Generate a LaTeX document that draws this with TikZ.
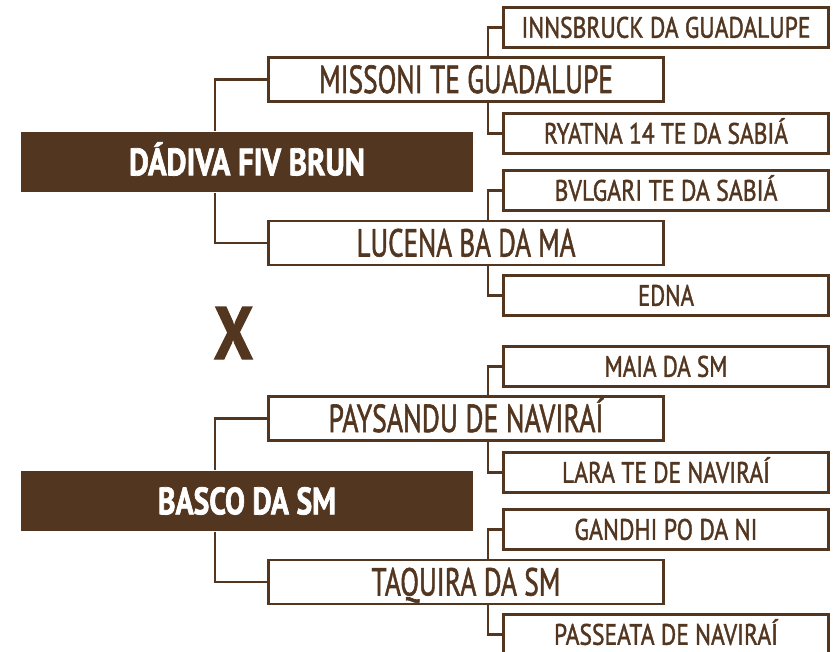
\documentclass[tikz,border=0pt]{standalone}
\usepackage{fontspec}
\usepackage{graphicx}
\setmainfont{PT Sans}
\newfontfamily\medfont{PT Sans}[FakeBold=1.6]
\newfontfamily\heavyfont{PT Sans Bold}[FakeBold=2]
\definecolor{brn}{HTML}{533620}
\newcommand\lbl[3]{\resizebox{#1pt}{\height}{\fontsize{#2}{#2}\selectfont #3}}
\begin{document}
\begin{tikzpicture}[x=1pt,y=-1pt,
  line width=2.2pt,
  conn/.style={draw=brn,line width=2.2pt},
  mainbox/.style={draw=brn,fill=white,line width=2.2pt,minimum width=395pt,minimum height=44pt,inner sep=0pt,text=brn,text height=27pt,text depth=0pt,font=\medfont},
  subbox/.style={draw=brn,fill=white,line width=2.2pt,minimum width=325pt,minimum height=40pt,inner sep=0pt,text=brn,text height=20.5pt,text depth=0pt,font=\medfont},
  rootbox/.style={fill=brn,minimum width=452pt,minimum height=60pt,inner sep=0pt,text=white,text height=26.5pt,text depth=0pt,font=\heavyfont},
  ]
\useasboundingbox (0,0) rectangle (840,652);
\clip (0,0) rectangle (840,652);
\coordinate (c1) at (215,0);
\coordinate (c2) at (488,0);
% top group
\node[rootbox] (r1) at (247,162) {\lbl{236}{38}{DÁDIVA FIV BRUN}};
\node[mainbox] (m1) at (466,79.5) {\lbl{294}{39}{MISSONI TE GUADALUPE}};
\node[mainbox] (m2) at (466,243) {\lbl{219}{39}{LUCENA BA DA MA}};
\node[subbox] (s1) at (666,27.5) {\lbl{289}{29.5}{INNSBRUCK DA GUADALUPE}};
\node[subbox] (s2) at (666,133.5) {\lbl{244}{29.5}{RYATNA 14 TE DA SABIÁ}};
\node[subbox] (s3) at (666,190.5) {\lbl{223}{29.5}{BVLGARI TE DA SABIÁ}};
\node[subbox] (s4) at (666,295.5) {\lbl{56}{29.5}{EDNA}};
% X
\node[text=brn,inner sep=0pt,text height=52pt,text depth=0pt,font=\heavyfont] (x) at (233.5,333) {\lbl{39}{74}{X}};
% bottom group
\node[rootbox] (r2) at (247,501) {\lbl{178}{38}{BASCO DA SM}};
\node[mainbox] (m3) at (466,418.5) {\lbl{275}{39}{PAYSANDU DE NAVIRAÍ}};
\node[mainbox] (m4) at (466,582) {\lbl{189}{39}{TAQUIRA DA SM}};
\node[subbox] (s5) at (666,366.5) {\lbl{123}{29.5}{MAIA DA SM}};
\node[subbox] (s6) at (666,472.5) {\lbl{208}{29.5}{LARA TE DE NAVIRAÍ}};
\node[subbox] (s7) at (666,529.5) {\lbl{183}{29.5}{GANDHI PO DA NI}};
\node[subbox] (s8) at (666,634.5) {\lbl{224}{29.5}{PASSEATA DE NAVIRAÍ}};
% connectors
\draw[conn] (r1.north -| c1) |- (m1.west);
\draw[conn] (r1.south -| c1) |- (m2.west);
\draw[conn] (m1.north -| c2) |- (s1.west);
\draw[conn] (m1.south -| c2) |- (s2.west);
\draw[conn] (m2.north -| c2) |- (s3.west);
\draw[conn] (m2.south -| c2) |- (s4.west);
\draw[conn] (r2.north -| c1) |- (m3.west);
\draw[conn] (r2.south -| c1) |- (m4.west);
\draw[conn] (m3.north -| c2) |- (s5.west);
\draw[conn] (m3.south -| c2) |- (s6.west);
\draw[conn] (m4.north -| c2) |- (s7.west);
\draw[conn] (m4.south -| c2) |- (s8.west);
\end{tikzpicture}
\end{document}
